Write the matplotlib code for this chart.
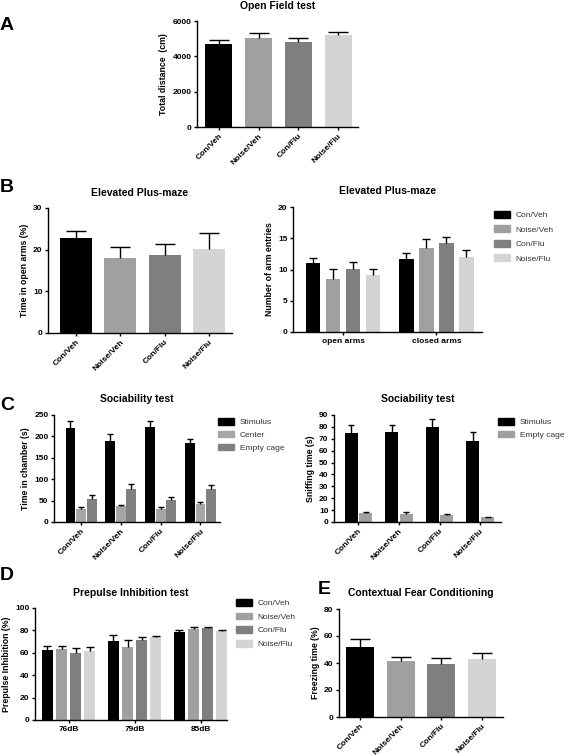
import matplotlib.pyplot as plt
import numpy as np

plt.rcParams['font.family'] = ['Liberation Sans', 'DejaVu Sans']

# groups and colours
groups = ['Con/Veh', 'Noise/Veh', 'Con/Flu', 'Noise/Flu']
grays = ['#000000', '#a0a0a0', '#7f7f7f', '#d4d4d4']

# A - open field
of_mean = [4720, 5040, 4810, 5190]
of_sem = [230, 280, 210, 210]

# B - elevated plus maze
epm_time = [22.8, 18.1, 18.8, 20.1]
epm_time_sem = [1.6, 2.5, 2.6, 3.8]
arm_types = ['open arms', 'closed arms']
entries_open = [11.0, 8.5, 10.1, 9.1]
entries_open_sem = [0.9, 1.6, 1.1, 1.0]
entries_closed = [11.7, 13.4, 14.2, 12.0]
entries_closed_sem = [0.9, 1.5, 0.95, 1.1]

# C - sociability
chamber_names = ['Stimulus', 'Center', 'Empty cage']
chamber_colors = ['#000000', '#a6a6a6', '#808080']
chamber_mean = [[220, 190, 223, 185], [30, 38, 30, 42], [54, 76, 52, 76]]
chamber_sem = [[16, 15, 12, 10], [5, 2, 4, 4], [10, 12, 7, 10]]
sniff_names = ['Stimulus', 'Empty cage']
sniff_colors = ['#000000', '#a0a0a0']
sniff_mean = [[74.7, 75.3, 79.7, 68.0], [7.2, 6.9, 5.8, 3.9]]
sniff_sem = [[7.2, 6.4, 6.7, 7.8], [0.9, 1.1, 0.9, 0.4]]

# D - prepulse inhibition (rows = groups, cols = prepulse)
ppi_levels = ['76dB', '79dB', '85dB']
ppi_mean = [[62.1, 70.4, 78.2], [63.0, 65.4, 81.5], [59.7, 71.3, 82.4], [61.5, 74.0, 79.1]]
ppi_sem = [[4.2, 5.7, 2.4], [3.0, 5.9, 1.2], [4.5, 3.0, 0.6], [3.3, 1.2, 1.5]]

# E - fear conditioning
fc_mean = [52.2, 41.5, 39.0, 43.0]
fc_sem = [5.4, 3.2, 4.7, 4.2]

W, H = 566, 755
fig = plt.figure(figsize=(W / 100, H / 100), dpi=100)


def px_axes(l, t, r, b):
    return fig.add_axes([l / W, 1 - b / H, (r - l) / W, (b - t) / H])


def style(ax, ymax, ystep, ylabel, title):
    for s in ['top', 'right']:
        ax.spines[s].set_visible(False)
    for s in ['left', 'bottom']:
        ax.spines[s].set_linewidth(1.0)
    ax.set_ylim(0, ymax)
    ax.set_yticks(np.arange(0, ymax + 1e-9, ystep))
    ax.tick_params(direction='out', length=2.5, width=1.0, labelsize=6, pad=1.5)
    for lab in ax.get_yticklabels():
        lab.set_fontweight('bold')
    ax.set_ylabel(ylabel, fontsize=6.3, fontweight='bold', labelpad=3)
    ax.set_title(title, fontsize=7.5, fontweight='bold', pad=9)


def ebar(ax, x, m, s, w, c, cap):
    # upward-only error bars, GraphPad style
    x = np.asarray(x, dtype=float)
    top = np.asarray(m) + np.asarray(s)
    ax.bar(x, m, w, color=c)
    ax.vlines(x, m, top, color='black', lw=1.0)
    ax.plot(x, top, ls='none', marker='_', ms=2 * cap, mew=1.0, color='black')


def rot_labels(ax, labels):
    ax.set_xticklabels(labels, rotation=45, ha='right', rotation_mode='anchor',
                       fontsize=6, fontweight='bold')


def add_legend(ax, names, colors, x, y, spacing=0.6):
    handles = [plt.Rectangle((0, 0), 1, 1, color=c) for c in colors]
    ax.legend(handles, names, loc='upper left', bbox_to_anchor=(x / W, 1 - y / H),
              bbox_transform=fig.transFigure, frameon=False, fontsize=6,
              handlelength=1.9, handleheight=0.85, handletextpad=0.7,
              labelspacing=spacing, borderpad=0, borderaxespad=0,
              labelcolor='#333333')


x4 = np.arange(4)

# A
ax = px_axes(197, 21, 358, 127)
ebar(ax, x4, of_mean, of_sem, 0.68, grays, 7)
ax.set_xlim(-0.55, 3.5)
ax.set_xticks(x4)
style(ax, 6000, 2000, 'Total distance  (cm)', 'Open Field test')
rot_labels(ax, groups)

# B left
ax = px_axes(48, 208, 232, 333)
ebar(ax, x4, epm_time, epm_time_sem, 0.72, grays, 7.5)
ax.set_xlim(-0.63, 3.52)
ax.set_xticks(x4)
style(ax, 30, 10, 'Time in open arms (%)', 'Elevated Plus-maze')
rot_labels(ax, groups)

# B right
ax = px_axes(293, 207, 482, 332)
x2 = np.arange(2)
for i in range(4):
    m = [entries_open[i], entries_closed[i]]
    s = [entries_open_sem[i], entries_closed_sem[i]]
    ebar(ax, x2 + (i - 1.5) * 0.214, m, s, 0.16, grays[i], 3)
ax.set_xlim(-0.535, 1.487)
ax.set_xticks(x2)
style(ax, 20, 5, 'Number of arm entries', 'Elevated Plus-maze')
ax.set_xticklabels(arm_types, fontsize=6, fontweight='bold')
add_legend(ax, groups, grays, 494, 211, spacing=0.75)

# C left
ax = px_axes(54, 415, 220, 522)
for j in range(3):
    ebar(ax, x4 + (j - 1) * 0.266, chamber_mean[j], chamber_sem[j], 0.25,
         chamber_colors[j], 2)
ax.set_xlim(-0.68, 3.49)
ax.set_xticks(x4)
style(ax, 250, 50, 'Time in chamber (s)', 'Sociability test')
rot_labels(ax, groups)
add_legend(ax, chamber_names, chamber_colors, 218, 418, spacing=0.55)

# C right
ax = px_axes(334, 415, 501, 522)
for j in range(2):
    ebar(ax, x4 + (j - 0.5) * 0.36, sniff_mean[j], sniff_sem[j], 0.32,
         sniff_colors[j], 2.5)
ax.set_xlim(-0.6, 3.51)
ax.set_xticks(x4)
style(ax, 90, 10, 'Sniffing time (s)', 'Sociability test')
rot_labels(ax, groups)
add_legend(ax, sniff_names, sniff_colors, 498, 418, spacing=0.55)

# D
ax = px_axes(35, 608, 227, 720)
x3 = np.arange(3)
for i in range(4):
    ebar(ax, x3 + (i - 1.5) * 0.214, ppi_mean[i], ppi_sem[i], 0.166, grays[i], 3)
ax.set_xlim(-0.51, 2.4)
ax.set_xticks(x3)
style(ax, 100, 20, 'Prepulse Inhibition (%)', 'Prepulse Inhibition test')
ax.set_xticklabels(ppi_levels, fontsize=6, fontweight='bold')
add_legend(ax, groups, grays, 236, 599, spacing=0.65)

# E
ax = px_axes(339, 609, 503, 717)
ebar(ax, x4, fc_mean, fc_sem, 0.69, grays, 7)
ax.set_xlim(-0.52, 3.52)
ax.set_xticks(x4)
style(ax, 80, 20, 'Freezing time (%)', 'Contextual Fear Conditioning')
rot_labels(ax, groups)

# panel letters
for letter, x, y in [('A', 0, 26), ('B', 0, 188), ('C', 0, 406), ('D', 0, 576),
                     ('E', 318, 589)]:
    fig.text(x / W, 1 - y / H, letter, fontsize=14, fontweight='bold', va='center')

fig.savefig('out.png', dpi=100)
